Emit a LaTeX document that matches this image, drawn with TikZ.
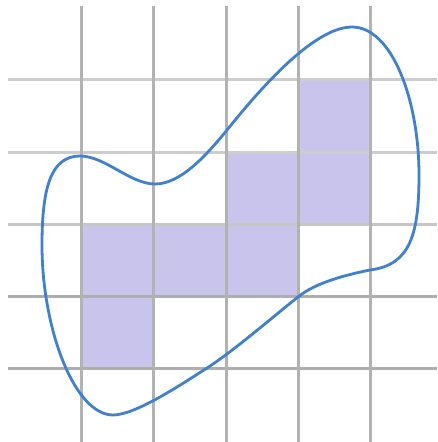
\documentclass[tikz,border=0pt]{standalone}
\usepackage{tikz}
\definecolor{cellfill}{HTML}{C8C4EC}
\definecolor{curveblue}{HTML}{3F80CF}
\definecolor{vgray}{HTML}{B2B2B2}
\definecolor{hlightgray}{HTML}{CDCDCD}
\definecolor{hmidgray}{HTML}{C6C6C6}
\definecolor{hdarkgray}{HTML}{AEAEAE}
\tikzset{
  cell/.style={fill=cellfill, draw=none},
  vline/.style={draw=vgray, line width=3pt},
  hlight/.style={draw=hlightgray, line width=3pt},
  hmid/.style={draw=hmidgray, line width=3pt},
  hdark/.style={draw=hdarkgray, line width=3pt},
  blob/.style={draw=curveblue, line width=2.8pt}
}
\begin{document}
\begin{tikzpicture}[x=1pt,y=-1pt]
\useasboundingbox (0,0) rectangle (437,442);
% cells
\fill[cellfill] (81,224) rectangle (153,368);
\fill[cellfill] (153,224) rectangle (226,296);
\fill[cellfill] (226,152) rectangle (298,296);
\fill[cellfill] (298,79) rectangle (370,224);
% grid
\draw[hlight] (8,79) -- (437,79);
\draw[hlight] (8,152) -- (437,152);
\draw[hmid] (8,224) -- (437,224);
\draw[hdark] (8,296) -- (437,296);
\draw[hdark] (8,368) -- (437,368);
\foreach \x in {81,153,226,298,370} \draw[vline] (\x,6) -- (\x,442);
% curve
\draw[blob] (352,27)
  .. controls (392,27) and (419,100) .. (419,175)
  .. controls (419,235) and (410,265) .. (370,270)
  .. controls (345,275) and (315,283) .. (298,297)
  .. controls (275,315) and (235,350) .. (207,368)
  .. controls (179,386) and (135,415) .. (113,415)
  .. controls (75,415) and (42,330) .. (42,245)
  .. controls (42,190) and (50,156) .. (80,156)
  .. controls (105,156) and (130,184) .. (155,184)
  .. controls (180,184) and (205,157) .. (227,130)
  .. controls (249,103) and (310,27) .. (352,27) -- cycle;
\end{tikzpicture}
\end{document}
